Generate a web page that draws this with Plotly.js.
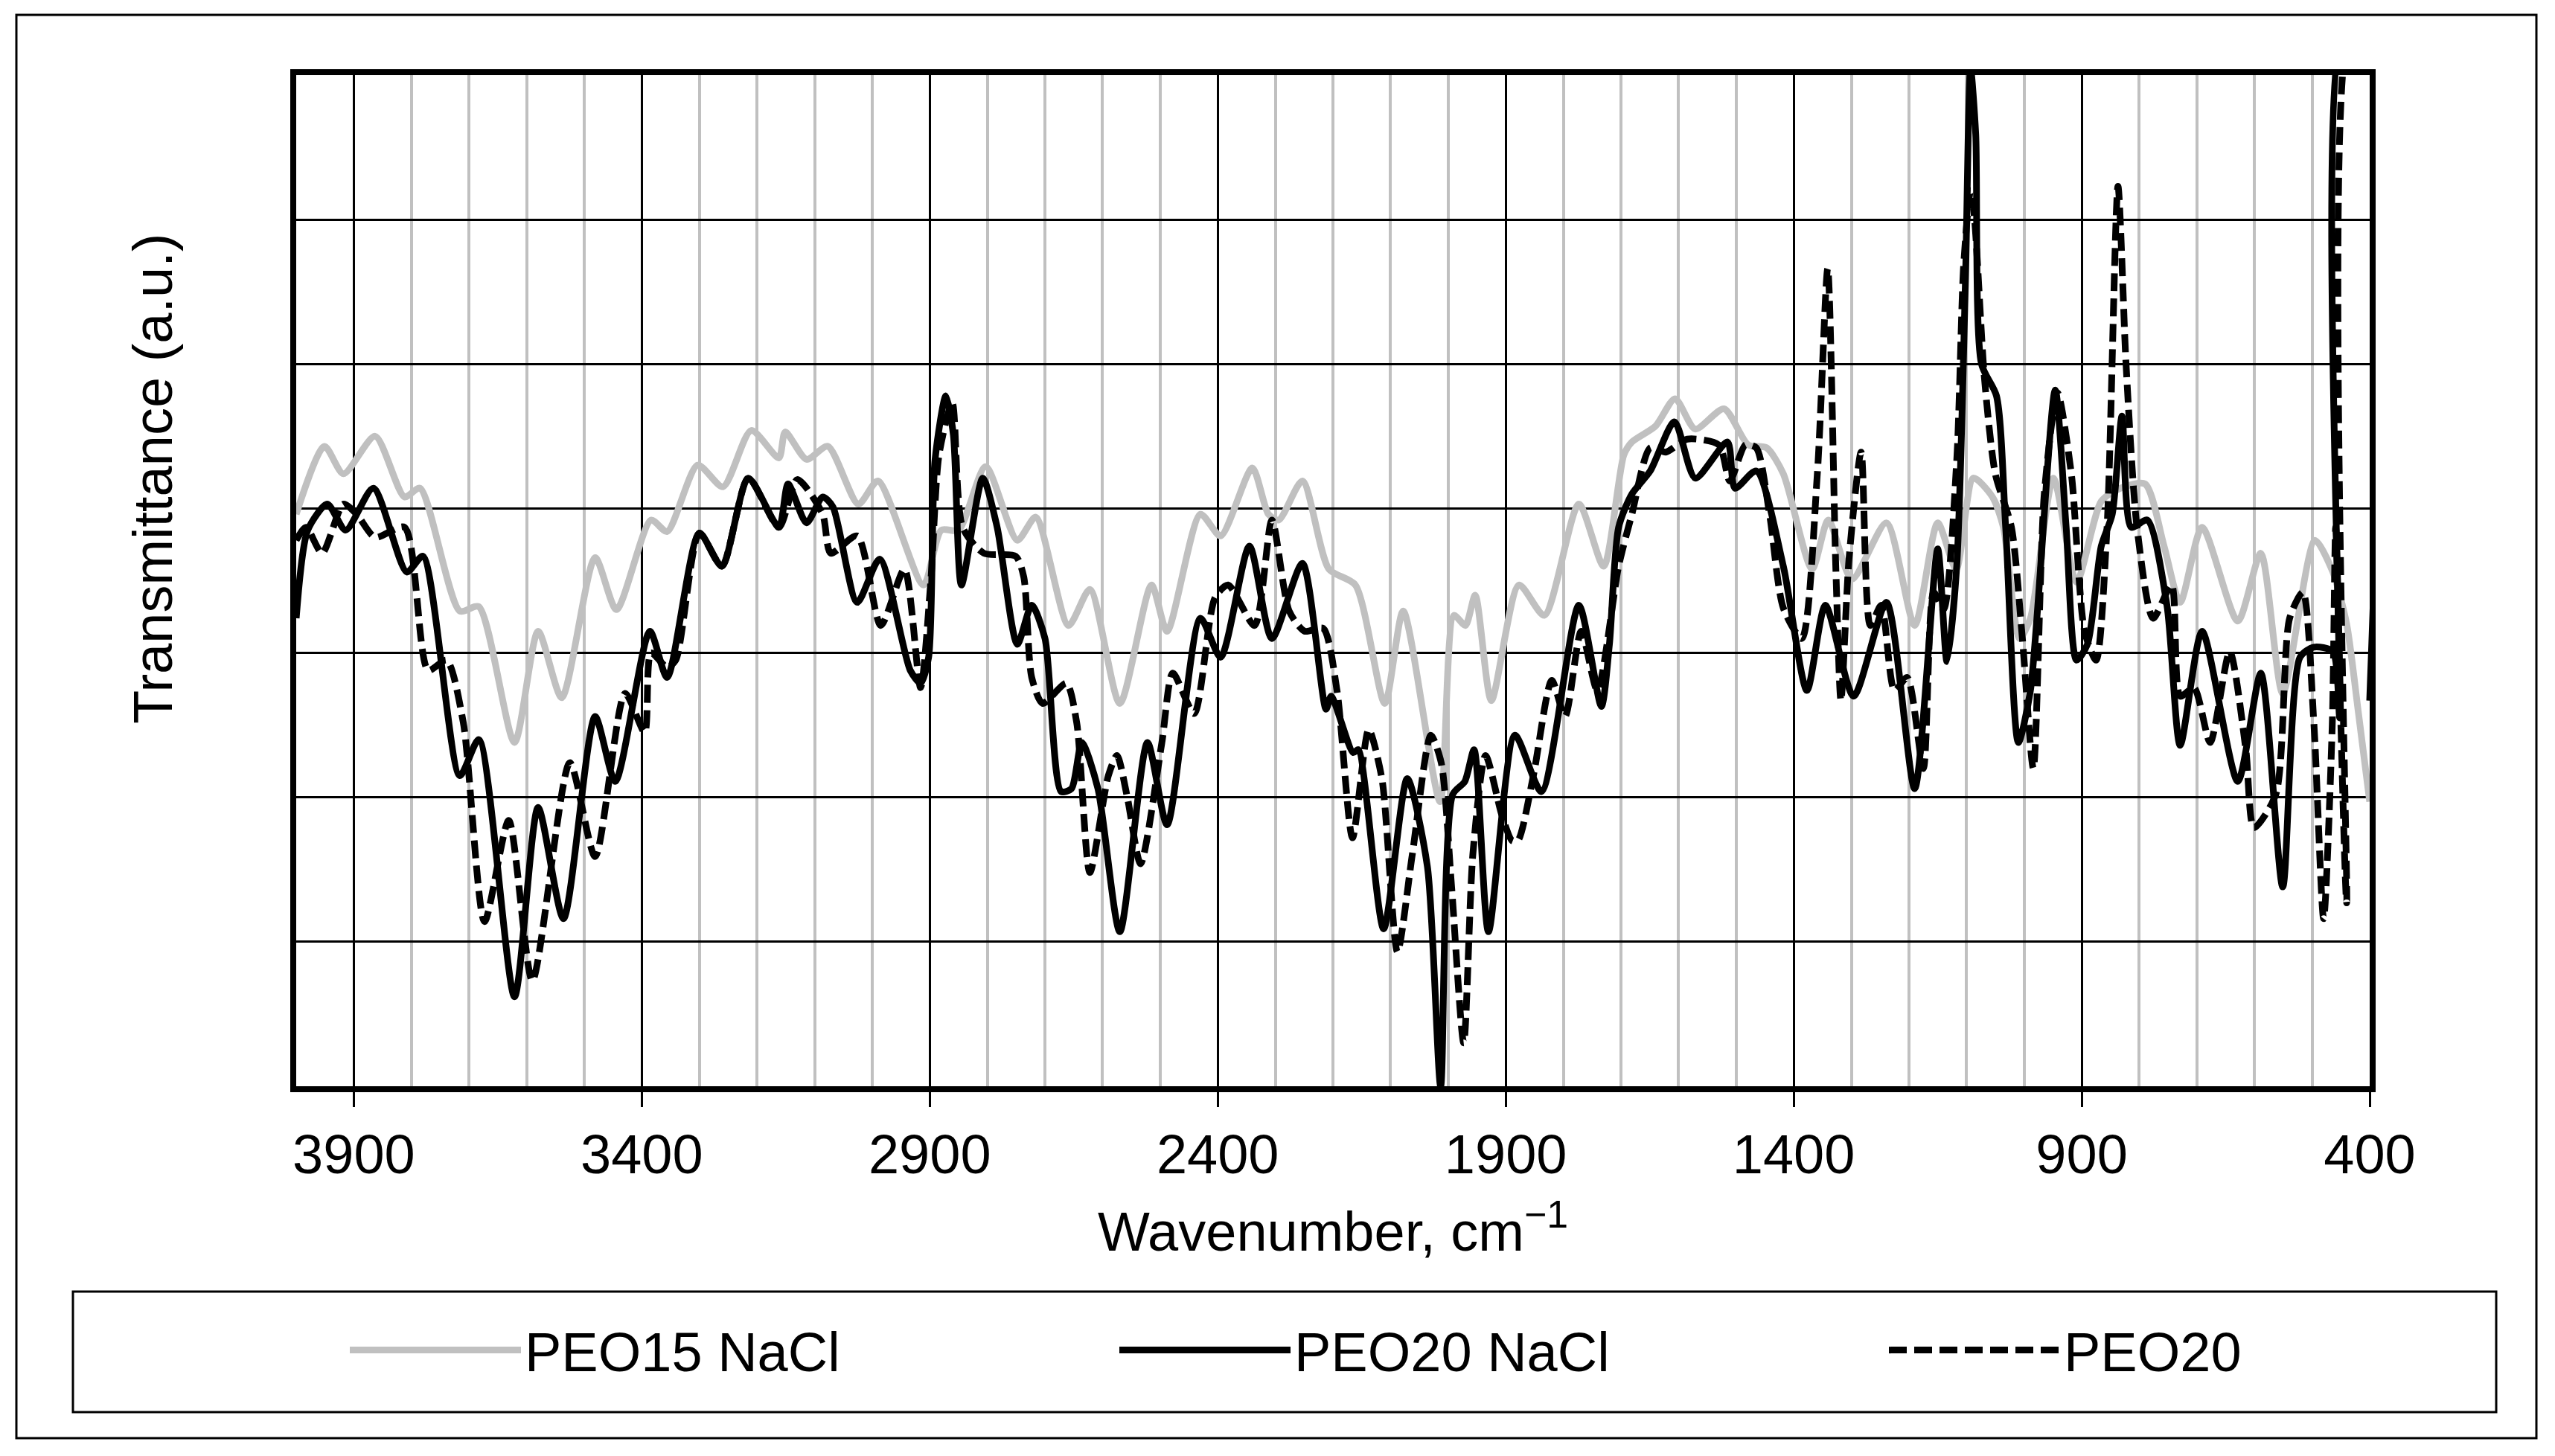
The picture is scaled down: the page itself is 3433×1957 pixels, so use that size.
<!DOCTYPE html>
<html><head><meta charset="utf-8">
<script src="https://cdn.plot.ly/plotly-3.0.1.min.js"></script>
<style>html,body{margin:0;padding:0;background:#fff}#chart{width:3433px;height:1957px}</style>
</head><body><div id="chart"></div>
<script>
// ---- data (wavenumber cm^-1, transmittance a.u. in grid units) ----
const seriesNames = ['PEO15 NaCl', 'PEO20 NaCl', 'PEO20'];

const peo15NaclX = [4000,3951,3918,3863,3812,3785,3716,3683,3621,3580,3539,3481,3444,3384,3356,3303,3259,3210,3162,3151,3114,3077,3024,2990,2911,2880,2850,2803,2748,2716,2659,2622,2570,2515,2488,2430,2395,2340,2312,2294,2253,2207,2161,2110,2078,2014,1990,1970,1953,1925,1877,1833,1773,1730,1695,1681,1640,1606,1571,1521,1479,1447,1418,1368,1340,1299,1239,1190,1150,1118,1088,1055,1036,1008,989,949,909,866,833,790,757,729,691,629,589,551,495,464,440,420,400];
const peo15NaclY = [3.96,4.43,4.24,4.50,4.08,4.14,3.29,3.32,2.38,3.15,2.69,3.66,3.30,3.92,3.84,4.30,4.15,4.54,4.35,4.53,4.34,4.43,4.03,4.19,3.47,3.85,3.85,4.29,3.78,3.94,3.19,3.44,2.65,3.47,3.15,3.96,3.81,4.28,3.96,3.92,4.19,3.58,3.47,2.65,3.29,1.97,3.26,3.19,3.40,2.67,3.47,3.26,4.03,3.60,4.37,4.46,4.57,4.76,4.55,4.69,4.44,4.42,4.24,3.58,3.92,3.51,3.90,3.19,3.90,3.58,4.21,4.08,3.87,3.10,3.24,4.21,3.49,4.05,4.14,4.17,3.74,3.35,3.87,3.22,3.69,2.72,3.78,3.56,3.20,2.60,1.97];

const peo20NaclX = [4000,3980,3946,3914,3866,3808,3780,3716,3683,3621,3580,3536,3481,3446,3386,3356,3300,3261,3215,3162,3146,3114,3086,3068,3026,2987,2934,2916,2902,2891,2872,2859,2845,2808,2783,2748,2723,2700,2672,2654,2636,2608,2570,2522,2488,2430,2395,2345,2306,2253,2212,2203,2165,2156,2112,2071,2036,2013,1992,1971,1955,1930,1884,1838,1773,1734,1720,1704,1681,1649,1607,1571,1515,1502,1465,1418,1377,1345,1296,1239,1190,1150,1134,1117,1102,1093,1084,1074,1048,1032,1010,989,946,927,909,890,866,847,830,814,786,752,729,691,629,589,551,521,497,464,452,446,402,400];
const peo20NaclY = [3.24,3.85,4.03,3.85,4.14,3.56,3.67,2.15,2.40,0.62,1.93,1.16,2.56,2.11,3.15,2.83,3.83,3.60,4.21,3.87,4.17,3.90,4.08,4.01,3.35,3.65,2.88,2.79,2.97,4.33,4.78,4.51,3.47,4.21,3.87,3.06,3.33,3.10,2.04,2.06,2.38,2.06,1.07,2.38,1.81,3.24,2.97,3.74,3.10,3.62,2.61,2.70,2.31,2.33,1.09,2.13,1.52,0.0,2.02,2.11,2.33,1.07,2.43,2.04,3.33,2.63,3.06,3.87,4.10,4.26,4.60,4.21,4.46,4.14,4.26,3.60,2.74,3.33,2.70,3.35,2.06,3.72,2.94,3.60,5.55,7.05,6.59,5.00,4.78,3.87,2.38,2.74,4.82,3.87,2.95,3.06,3.74,3.96,4.64,3.87,3.92,3.33,2.36,3.15,2.11,2.86,1.38,2.97,3.04,3.01,2.55,7.3,7.3,2.67];

const peo20X = [4000,3983,3955,3918,3895,3863,3812,3771,3739,3710,3673,3631,3590,3525,3481,3429,3395,3384,3356,3341,3300,3261,3215,3162,3130,3086,3072,3026,2985,2944,2916,2898,2884,2861,2843,2806,2751,2737,2723,2704,2663,2645,2622,2590,2575,2557,2534,2497,2478,2441,2405,2382,2336,2306,2276,2249,2217,2193,2166,2138,2115,2088,2062,2030,2012,1994,1973,1957,1935,1907,1889,1879,1852,1820,1797,1769,1741,1704,1681,1649,1622,1585,1530,1511,1484,1465,1442,1418,1386,1359,1341,1327,1318,1304,1283,1267,1248,1225,1203,1175,1157,1140,1117,1105,1093,1086,1069,1050,1022,1003,984,965,942,918,895,875,856,837,823,804,776,744,729,705,677,643,615,601,563,539,516,497,480,465,459,452,440,434,400];
const peo20Y = [3.78,3.87,3.69,4.03,3.96,3.80,3.87,2.88,2.95,2.52,1.14,1.84,0.73,2.24,1.59,2.72,2.45,3.00,2.90,2.95,3.83,3.60,4.21,3.87,4.20,3.96,3.69,3.81,3.19,3.58,2.76,3.51,4.37,4.73,3.87,3.69,3.67,3.53,2.83,2.65,2.79,2.52,1.48,2.15,2.29,2.00,1.54,2.38,2.86,2.58,3.38,3.47,3.19,3.92,3.29,3.15,3.17,2.74,1.72,2.47,2.13,0.93,1.61,2.43,2.24,1.38,0.30,1.61,2.29,1.88,1.70,1.70,2.15,2.81,2.56,3.15,2.74,3.60,3.96,4.42,4.39,4.48,4.44,4.19,4.44,4.42,3.96,3.31,3.10,4.24,5.66,3.60,2.67,3.65,4.39,3.19,3.33,2.74,2.83,2.20,3.42,3.30,4.33,5.68,6.20,6.00,4.91,4.24,3.87,3.10,2.20,4.10,4.80,4.24,3.15,2.95,3.87,6.23,5.00,3.87,3.24,3.47,2.70,2.76,2.38,3.01,2.33,1.79,2.02,3.24,3.42,2.52,1.16,2.50,3.87,2.80,1.27,7.3,7.3];

const xTickStart = 400, xTickStep = 500, xMinorStep = 100;
const xRange = [4000, 400], yRange = [0, 7];
const xTitle = 'Wavenumber, cm<sup>−1</sup>';
const yTitle = 'Transmittance (a.u.)';

// ---- layout geometry (pixels) ----
const W = 3433, H = 1957, L = 398, R = 3184, T = 101, B = 1460;
const pw = R - L, ph = B - T;
const px2x = p => (p - L) / pw;
const px2y = p => (B - p) / ph;
const FONT = 'Liberation Sans, Arial, Helvetica, sans-serif';

const lineStyles = [
  {color: '#c0c0c0', width: 9},
  {color: '#000000', width: 9},
  {color: '#000000', width: 9, dash: '24px,10px'}
];
const xs = [peo15NaclX, peo20NaclX, peo20X];
const ys = [peo15NaclY, peo20NaclY, peo20Y];
const legendWidths = [789, 789, 300];

const traces = seriesNames.map((n, i) => ({
  type: 'scatter', mode: 'lines', name: n,
  x: xs[i], y: ys[i],
  line: Object.assign({shape: 'spline', smoothing: 0.7}, lineStyles[i]),
  legendwidth: legendWidths[i],
  hoverinfo: 'skip'
}));

const layout = {
  width: W, height: H,
  margin: {l: L, r: W - R, t: T, b: H - B, pad: 0},
  paper_bgcolor: '#fff', plot_bgcolor: '#fff',
  font: {family: FONT, size: 74, color: '#000'},
  showlegend: true,
  legend: {
    orientation: 'h', x: px2x(465), xanchor: 'left', y: px2y(1815), yanchor: 'middle',
    itemwidth: 230, font: {family: FONT, size: 74, color: '#000'},
    bgcolor: 'rgba(0,0,0,0)', borderwidth: 0, itemclick: false, itemdoubleclick: false
  },
  xaxis: {
    range: xRange, autorange: false,
    tickmode: 'linear', tick0: xTickStart, dtick: xTickStep,
    ticks: 'outside', ticklen: 20, tickwidth: 3, tickcolor: '#000',
    showgrid: true, gridcolor: '#000', gridwidth: 3,
    minor: {tickmode: 'linear', tick0: xTickStart, dtick: xMinorStep, showgrid: true, gridcolor: '#c0c0c0', gridwidth: 4, ticks: ''},
    showline: true, mirror: true, linecolor: '#000', linewidth: 8,
    zeroline: false, automargin: false,
    tickfont: {family: FONT, size: 74, color: '#000'},
    title: {text: xTitle, font: {family: FONT, size: 74, color: '#000'}, standoff: 40}
  },
  yaxis: {
    range: yRange, autorange: false,
    tickmode: 'linear', tick0: 0, dtick: 1,
    showticklabels: false, ticks: '',
    showgrid: true, gridcolor: '#000', gridwidth: 3,
    showline: true, mirror: true, linecolor: '#000', linewidth: 8,
    zeroline: false, automargin: false
  },
  annotations: [
    {text: yTitle, xref: 'paper', yref: 'paper', x: px2x(205), y: px2y(644), xanchor: 'center', yanchor: 'middle',
     textangle: -90, showarrow: false, font: {family: FONT, size: 74, color: '#000'}}
  ],
  shapes: [
    {type: 'rect', xref: 'paper', yref: 'paper', x0: px2x(22), x1: px2x(3408), y0: px2y(1933), y1: px2y(20), line: {color: '#000', width: 3}, layer: 'below'},
    {type: 'rect', xref: 'paper', yref: 'paper', x0: px2x(98), x1: px2x(3354), y0: px2y(1898), y1: px2y(1736), line: {color: '#000', width: 3}, layer: 'below'}
  ]
};

Plotly.newPlot('chart', traces, layout, {displayModeBar: false, staticPlot: true});
</script>
</body></html>
